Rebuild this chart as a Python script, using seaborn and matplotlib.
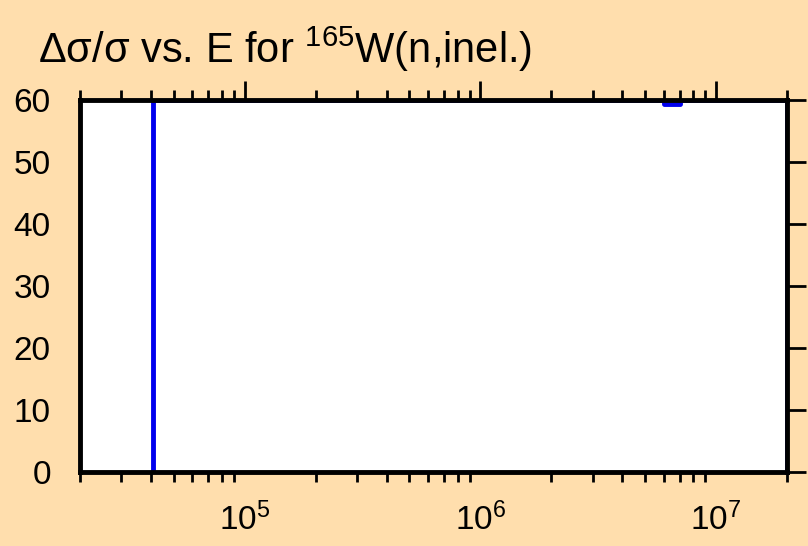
import numpy as np
import pandas as pd
import matplotlib
matplotlib.use('Agg')
import matplotlib.pyplot as plt
import matplotlib.ticker as mticker
import seaborn as sns

# 데이터 (step 형태의 상대 불확도)
energy = [4.1e4, 4.1e4, 6.0e6, 7.0e6, 2.0e7, 2.0e7]
rel_unc = [0.0, 60.0, 59.4, 60.0, 60.0, 0.0]
y_ticks = [0, 10, 20, 30, 40, 50, 60]

df = pd.DataFrame({'E': energy, 'unc': rel_unc})

sns.set_style('white')
plt.rcParams['font.family'] = ['Liberation Sans', 'DejaVu Sans']
plt.rcParams['mathtext.default'] = 'regular'
plt.rcParams['text.color'] = 'black'
plt.rcParams['xtick.color'] = 'black'
plt.rcParams['ytick.color'] = 'black'

bg = '#FFDEAD'
fig = plt.figure(figsize=(8.08, 5.46), dpi=100, facecolor=bg)
ax = fig.add_axes([0.099, 0.1355, 0.875, 0.6813])
ax.set_facecolor('white')

sns.lineplot(x='E', y='unc', data=df, ax=ax, estimator=None, sort=False,
             drawstyle='steps-post', color='#0000EE', linewidth=3.5, zorder=2)

ax.set_xscale('log')
ax.set_xlim(2e4, 2e7)
ax.set_ylim(0, 60)
ax.set_yticks(y_ticks)
ax.xaxis.set_major_locator(mticker.LogLocator(base=10))
ax.xaxis.set_minor_locator(mticker.LogLocator(base=10, subs=np.arange(2, 10)))
ax.xaxis.set_minor_formatter(mticker.NullFormatter())
ax.set_xlabel('')
ax.set_ylabel('')

for s in ax.spines.values():
    s.set_linewidth(3.5)
    s.set_color('black')
    s.set_zorder(3)

ax.tick_params(axis='both', which='major', direction='out', length=14, width=2,
               labelsize=24, top=True, right=True, colors='black')
ax.tick_params(axis='x', which='minor', direction='out', length=7, width=2,
               top=True, bottom=True)
ax.tick_params(axis='x', which='major', pad=8)
ax.tick_params(axis='y', which='major', pad=7)

fig.text(0.047, 0.91, r'Δσ/σ vs. E for $^{165}$W(n,inel.)', fontsize=30,
         ha='left', va='center')

fig.savefig('out.png', dpi=100, facecolor=bg)
